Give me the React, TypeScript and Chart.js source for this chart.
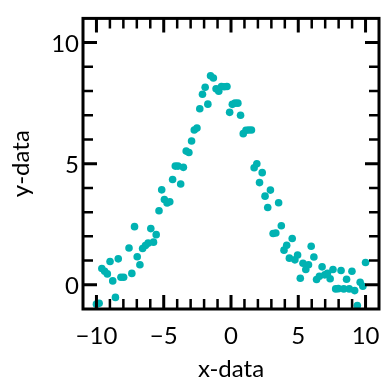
import { useEffect, useRef } from "react";
import { Chart, registerables } from "chart.js";

Chart.register(...registerables);

const xData = [
  -10.0, -9.8, -9.6, -9.39, -9.19, -8.99, -8.79, -8.59, -8.38, -8.18, -7.98,
  -7.58, -7.37, -7.17, -6.97, -6.77, -6.57, -6.36, -6.16, -5.96, -5.76, -5.56,
  -5.35, -5.15, -4.95, -4.75, -4.55, -4.34, -4.14, -3.94, -3.74, -3.54, -3.33,
  -3.13, -2.93, -2.73, -2.53, -2.32, -2.12, -1.92, -1.72, -1.52, -1.31, -1.11,
  -0.91, -0.71, -0.51, -0.3, -0.1, 0.1, 0.3, 0.51, 0.71, 0.91, 1.11, 1.31, 1.52,
  1.72, 1.92, 2.12, 2.32, 2.53, 2.73, 2.93, 3.13, 3.33, 3.54, 3.74, 3.94, 4.14,
  4.34, 4.55, 4.75, 4.95, 5.15, 5.35, 5.56, 5.76, 5.96, 6.16, 6.36, 6.57, 6.77,
  6.97, 7.17, 7.37, 7.58, 7.78, 7.98, 8.18, 8.38, 8.59, 8.79, 8.99, 9.19, 9.39,
  9.6, 9.8, 10.0,
];

const yData = [
  -0.8, -0.76, 0.67, 0.56, 0.45, 0.96, 0.16, -0.52, 1.07, 0.31, 0.31,
  1.52, 0.47, 2.4, 1.16, 0.83, 1.5, 1.62, 1.72, 2.32, 1.76, 2.07,
  3.06, 3.92, 3.52, 3.38, 3.43, 4.35, 4.9, 4.9, 4.16, 4.85, 5.52,
  5.46, 5.94, 6.39, 6.47, 7.27, 7.87, 8.16, 7.46, 8.63, 8.54, 8.09,
  7.99, 8.19, 8.18, 8.19, 7.12, 7.45, 7.5, 7.5, 7.0, 6.24, 6.38, 6.39, 6.39,
  4.83, 5.0, 4.22, 4.63, 3.66, 3.19, 3.91, 2.12, 2.14, 3.39, 2.44, 1.43, 1.63,
  1.1, 1.91, 1.03, 1.23, 0.27, 0.89, 0.63, 0.83, 1.59, 1.15, 0.22, 0.35, 0.74,
  0.41, 0.47, 0.25, 0.63, -0.17, -0.16, 0.59, -0.17, 0.23, -0.17, 0.56, -0.24,
  -0.86, 0.1, -0.06, 0.92,
];

const xRange = [-11, 11];
const yRange = [-1, 11];
const majorStep = 5;
const xTitle = "x-data";
const yTitle = "y-data";

const FONT = "Lato, 'Noto Sans', sans-serif";
const FSIZE = 24;

const fmt = (v: number) =>
  v % majorStep === 0 ? (v < 0 ? "\u2212" + Math.abs(v) : String(v)) : "";

const frameTicks = {
  id: "frameTicks",
  afterDatasetsDraw(chart: any) {
    const { ctx, chartArea: a, scales } = chart;
    const xs = scales.x;
    const ys = scales.y;
    ctx.save();
    ctx.strokeStyle = "#000";
    ctx.lineCap = "butt";
    xs.ticks.forEach((t: any) => {
      const v = t.value;
      if (v <= xs.min || v >= xs.max) return;
      const p = xs.getPixelForValue(v);
      const major = v % majorStep === 0;
      const len = major ? 14 : 10;
      ctx.lineWidth = major ? 3 : 2.5;
      ctx.beginPath();
      ctx.moveTo(p, a.bottom);
      ctx.lineTo(p, a.bottom - len);
      ctx.moveTo(p, a.top);
      ctx.lineTo(p, a.top + len);
      ctx.stroke();
    });
    ys.ticks.forEach((t: any) => {
      const v = t.value;
      if (v <= ys.min || v >= ys.max) return;
      const p = ys.getPixelForValue(v);
      const major = v % majorStep === 0;
      const len = major ? 14 : 10;
      ctx.lineWidth = major ? 3 : 2.5;
      ctx.beginPath();
      ctx.moveTo(a.left, p);
      ctx.lineTo(a.left + len, p);
      ctx.moveTo(a.right, p);
      ctx.lineTo(a.right - len, p);
      ctx.stroke();
    });
    ctx.lineWidth = 3;
    ctx.strokeRect(a.left, a.top, a.right - a.left, a.bottom - a.top);
    ctx.restore();
  },
};

export default function App() {
  const ref = useRef<HTMLCanvasElement | null>(null);
  useEffect(() => {
    if (!ref.current) return;
    const points = xData.map((x, i) => ({ x, y: yData[i] }));
    const chart = new Chart(ref.current, {
      type: "scatter",
      data: {
        datasets: [
          {
            data: points,
            backgroundColor: "rgb(0,178,178)",
            borderWidth: 0,
            pointRadius: 3.8,
            clip: false as any,
          },
        ],
      },
      options: {
        animation: false,
        responsive: false,
        events: [],
        layout: { padding: { top: 9, right: 9, left: 0, bottom: 0 } },
        plugins: { legend: { display: false }, tooltip: { enabled: false } },
        scales: {
          x: {
            type: "linear",
            min: xRange[0],
            max: xRange[1],
            grid: { display: false, drawTicks: false },
            border: { display: false },
            ticks: {
              stepSize: 1,
              autoSkip: false,
              maxRotation: 0,
              padding: 13,
              color: "#000",
              font: { family: FONT, size: FSIZE },
              callback: (v: any) => fmt(Number(v)),
            },
            title: {
              display: true,
              text: xTitle,
              color: "#000",
              font: { family: FONT, size: FSIZE },
              padding: { top: 0, bottom: 6 },
            },
            afterFit: (s: any) => {
              s.height = 81;
            },
          },
          y: {
            type: "linear",
            min: yRange[0],
            max: yRange[1],
            grid: { display: false, drawTicks: false },
            border: { display: false },
            ticks: {
              stepSize: 1,
              autoSkip: false,
              padding: 4,
              labelOffset: 1.5,
              color: "#000",
              font: { family: FONT, size: FSIZE },
              callback: (v: any) => fmt(Number(v)),
            },
            title: {
              display: true,
              text: yTitle,
              color: "#000",
              font: { family: FONT, size: FSIZE },
              padding: { top: 7, bottom: 0 },
            },
            afterFit: (s: any) => {
              s.width = 83;
            },
          },
        },
      },
      plugins: [frameTicks],
    });
    return () => chart.destroy();
  }, []);
  return (
    <div style={{ position: "absolute", left: 0, top: 0, width: 392, height: 390, background: "#fff" }}>
      <canvas ref={ref} width={392} height={390} style={{ display: "block" }} />
    </div>
  );
}
